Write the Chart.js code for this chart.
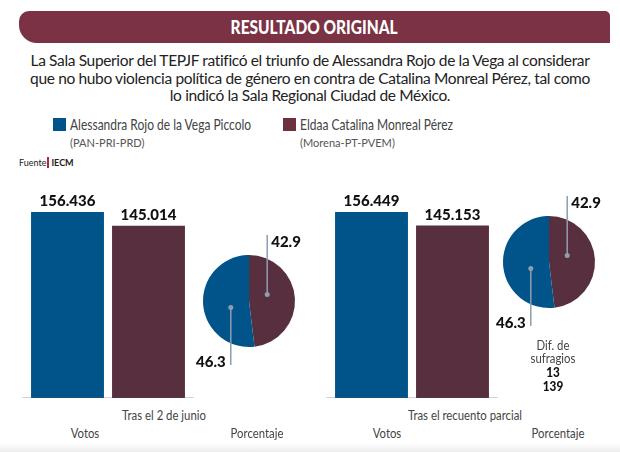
<!DOCTYPE html>
<html lang="es">
<head>
<meta charset="utf-8">
<script src="https://cdn.jsdelivr.net/npm/chart.js@4"></script>
<style>
  html, body { margin: 0; padding: 0; }
  body { width: 620px; height: 452px; position: relative; overflow: hidden; background: #fff; font-family: Lato, "Open Sans", sans-serif; color: #3a3a3a; }
  .abs { position: absolute; }
  #banner { left: 19px; top: 11px; width: 591px; height: 32px; background: #7a3244; border-radius: 10px 5px 0 18px; color: #fff; text-align: center; line-height: 32px; }
  #banner span { display: inline-block; font-weight: 900; font-size: 18px; transform: scaleX(0.86); }
  #lead { left: 10px; top: 52px; width: 600px; text-align: center; font-size: 15.5px; line-height: 17.5px; color: #222; letter-spacing: -0.35px; }
  .sw { width: 13px; height: 13px; }
  .lg { font-size: 15px; color: #444; white-space: nowrap; transform: scaleX(0.8); transform-origin: 0 0; }
  .lgs { font-size: 12px; color: #555; white-space: nowrap; transform: scaleX(0.92); transform-origin: 0 0; }
  #src { left: 19px; top: 157px; font-size: 9px; color: #222; white-space: nowrap; }
  #src b { border-left: 2px solid #b0283a; padding-left: 2px; margin-left: 1px; }
  .cap { font-size: 13.5px; color: #444; white-space: nowrap; transform: translateX(-50%) scaleX(0.84); }
  .big { font-weight: 900; font-size: 14px; color: #111; }
  canvas { position: absolute; }
  #fade { left: 0; top: 443px; width: 620px; height: 9px; background: linear-gradient(#fff, #ececec); }
</style>
</head>
<body>
<div id="banner" class="abs"><span>RESULTADO ORIGINAL</span></div>
<div id="lead" class="abs">La Sala Superior del TEPJF ratificó el triunfo de Alessandra Rojo de la Vega al considerar<br>que no hubo violencia política de género en contra de Catalina Monreal Pérez, tal como<br>lo indicó la Sala Regional Ciudad de México.</div>
<div id="legend"></div>
<div id="src" class="abs">Fuente<b>IECM</b></div>

<canvas id="barJunio" width="172" height="208" style="left:22px;top:190px"></canvas>
<canvas id="barRecuento" width="172" height="208" style="left:326px;top:190px"></canvas>
<canvas id="pieJunio" width="140" height="150" style="left:179px;top:226px"></canvas>
<canvas id="pieRecuento" width="140" height="150" style="left:479px;top:187px"></canvas>

<div class="abs cap" style="left:164px;top:407px">Tras el 2 de junio</div>
<div class="abs cap" style="left:85px;top:425px">Votos</div>
<div class="abs cap" style="left:257px;top:425px">Porcentaje</div>
<div class="abs cap" style="left:465px;top:407px">Tras el recuento parcial</div>
<div class="abs cap" style="left:387px;top:425px">Votos</div>
<div class="abs cap" style="left:558px;top:425px">Porcentaje</div>
<div id="dif" class="abs cap" style="left:553px;top:339px;text-align:center;line-height:13px"></div>
<div id="fade" class="abs"></div>

<script>
// Data read from the graphic
const candidates = ['Alessandra Rojo de la Vega Piccolo', 'Eldaa Catalina Monreal Pérez'];
const parties = ['(PAN-PRI-PRD)', '(Morena-PT-PVEM)'];
const votesJunio = [156436, 145014];
const votesRecuento = [156449, 145153];
const pctJunio = [46.3, 42.9];
const pctRecuento = [46.3, 42.9];
const difLabel = ['Dif. de', 'sufragios'];
const difValue = ['13', '139'];

const colors = ['#01548a', '#572f3f'];
const legendColors = ['#01548a', '#6e2f3f'];
const fmt = v => v.toLocaleString('de-DE');

// Legend
const legendX = [53, 283];
document.getElementById('legend').innerHTML = candidates.map((c, i) => `
  <div class="abs sw" style="left:${legendX[i]}px;top:118px;background:${legendColors[i]}"></div>
  <div class="abs lg" style="left:${legendX[i] + 17}px;top:115px">${c}</div>
  <div class="abs lgs" style="left:${legendX[i] + 17}px;top:135px">${parties[i]}</div>`).join('');

document.getElementById('dif').innerHTML =
  difLabel.join('<br>') + '<br>' + difValue.map(v => `<span class="big">${v}</span>`).join('<br>');

// Value on top of each bar + baseline
const barLabels = {
  id: 'barLabels',
  afterDatasetsDraw(chart) {
    const { ctx, chartArea } = chart;
    ctx.save();
    ctx.strokeStyle = '#555';
    ctx.lineWidth = 1.5;
    ctx.beginPath();
    ctx.moveTo(0, chartArea.bottom + 0.5);
    ctx.lineTo(chart.width, chartArea.bottom + 0.5);
    ctx.stroke();
    ctx.fillStyle = '#111';
    ctx.font = '900 15px Lato, sans-serif';
    ctx.textAlign = 'center';
    ctx.textBaseline = 'bottom';
    chart.getDatasetMeta(0).data.forEach((bar, i) => {
      ctx.fillText(fmt(chart.data.datasets[0].data[i]), bar.x, bar.y - 3);
    });
    ctx.restore();
  }
};

const makeBar = (id, values) => new Chart(document.getElementById(id), {
  type: 'bar',
  data: {
    labels: candidates,
    datasets: [{ data: values, backgroundColor: colors, borderWidth: 0,
                 barPercentage: 0.9, categoryPercentage: 1 }]
  },
  options: {
    responsive: false,
    animation: false,
    devicePixelRatio: 1,
    layout: { padding: { left: 5, right: 5, top: 0, bottom: 0 } },
    plugins: { legend: { display: false }, tooltip: { enabled: false } },
    scales: {
      x: { display: false },
      y: { display: false, min: 0, max: 175000 }
    }
  },
  plugins: [barLabels]
});

// Callout lines with values for the pie slices
const pieCallouts = {
  id: 'pieCallouts',
  afterDatasetsDraw(chart) {
    const { ctx } = chart;
    const arcs = chart.getDatasetMeta(0).data;
    const vals = chart.data.datasets[0].data;
    ctx.save();
    ctx.font = '900 15px Lato, sans-serif';
    arcs.forEach((arc, i) => {
      const mid = (arc.startAngle + arc.endAngle) / 2 - 0.28;
      const r = arc.outerRadius * 0.42;
      const px = arc.x + Math.cos(mid) * r;
      const py = arc.y + Math.sin(mid) * r;
      const up = py < arc.y;
      const endY = up ? arc.y - arc.outerRadius - 20 : arc.y + arc.outerRadius + 18;
      ctx.strokeStyle = '#8e9eae';
      ctx.lineWidth = 1.5;
      ctx.beginPath();
      ctx.moveTo(px, py);
      ctx.lineTo(px, endY);
      ctx.stroke();
      ctx.fillStyle = '#8e9eae';
      ctx.beginPath();
      ctx.arc(px, py, 2.5, 0, Math.PI * 2);
      ctx.fill();
      ctx.fillStyle = '#111';
      ctx.textBaseline = 'middle';
      if (up) {
        ctx.textAlign = 'left';
        ctx.fillText(vals[i].toFixed(1), px + 4, endY + 7);
      } else {
        ctx.textAlign = 'right';
        ctx.fillText(vals[i].toFixed(1), px - 5, endY - 3);
      }
    });
    ctx.restore();
  }
};

// Pie: second candidate drawn first so it sits clockwise from 12 o'clock
const makePie = (id, values) => new Chart(document.getElementById(id), {
  type: 'pie',
  data: {
    labels: [candidates[1], candidates[0]],
    datasets: [{ data: [values[1], values[0]], backgroundColor: [colors[1], colors[0]],
                 borderWidth: 0, radius: 46 }]
  },
  options: {
    responsive: false,
    animation: false,
    devicePixelRatio: 1,
    plugins: { legend: { display: false }, tooltip: { enabled: false } }
  },
  plugins: [pieCallouts]
});

makeBar('barJunio', votesJunio);
makeBar('barRecuento', votesRecuento);
makePie('pieJunio', pctJunio);
makePie('pieRecuento', pctRecuento);
</script>
</body>
</html>
